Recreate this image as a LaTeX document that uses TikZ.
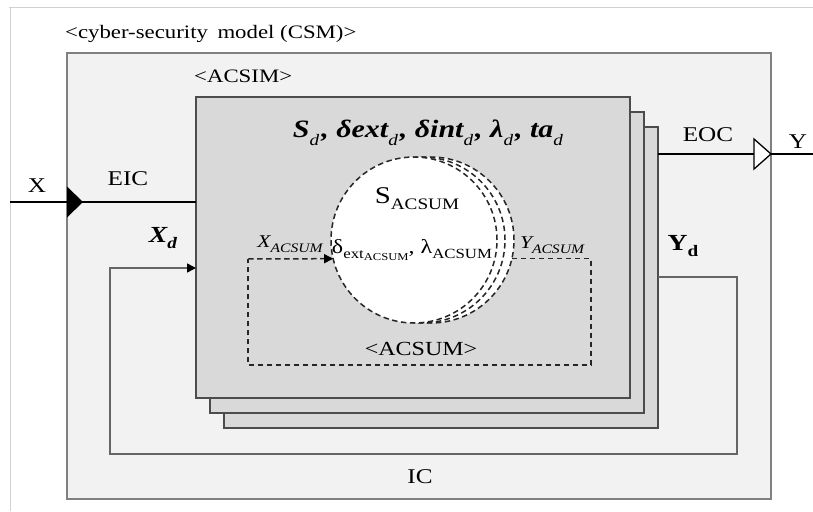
\documentclass[tikz,border=0pt]{standalone}
\usepackage{fontspec}
\setmainfont{Liberation Serif}[FakeStretch=1.2]
\usetikzlibrary{calc,arrows.meta}
\newcommand\fs[1]{\fontsize{#1}{#1}\selectfont}
\newcommand\lo[3][0.3em]{\raisebox{-#1}{\fs{#2}#3}}
\newcommand\ld[1]{\raisebox{-0.3em}{\fs{16}\mdseries\itshape d}\kern#1}
\begin{document}
\begin{tikzpicture}[x=1pt,y=-1pt,
  frame/.style={draw=black!18, line width=1pt},
  csm/.style={draw=black!50, fill=black!5, line width=1.5pt, inner sep=0, outer sep=0},
  acsim/.style={draw=black!70, fill=black!15, line width=1.2pt, inner sep=0, outer sep=0, minimum width=434pt, minimum height=301pt},
  circ/.style={circle, draw=black!85, fill=white, dash pattern=on 5.5pt off 3.5pt, line width=1.5pt, minimum size=166pt, inner sep=0, outer sep=0},
  dsh/.style={draw=black!85, dash pattern=on 5.5pt off 3.5pt, line width=1.5pt},
  wire/.style={draw=black, line width=1.3pt},
  fb/.style={draw=black!60, line width=1.5pt},
  lbl/.style={inner sep=0, font=\fs{20}},
  tip/.style={-{Triangle[length=9pt,width=9pt,black]}}
]
\useasboundingbox (0,0) rectangle (813,511);
\fill[white] (0,0) rectangle (813,511);
% frame lines
\draw[frame] (9,8) -- (813,8);
\draw[frame] (10,8) -- (10,511);
% CSM box
\node[csm, minimum width=704pt, minimum height=446pt] (csm) at (419,276) {};
\node[lbl, anchor=base west, font=\fs{19}] (title) at (65,38) {<cyber-security\hspace{0.5em}model (CSM)>};
\node[lbl, anchor=base west, font=\fs{19}] (acsimlbl) at (194,82) {<ACSIM>};
% ACSIM stack
\node[acsim] (b3) at (441,277.5) {};
\node[acsim] (b2) at (427,262.5) {};
\node[acsim] (b1) at (413,247.5) {};
\node[lbl, font=\fs{25}\bfseries\itshape] (fn) at (428,133)
  {S\ld{2pt}, δext\ld{2pt}, δint\ld{2pt}, λ\ld{2pt}, ta\ld{0pt}};
% ACSUM circles
\node[circ] (c3) at (431,240) {};
\node[circ] (c2) at (422,240) {};
\node[circ] (c1) at (414,240) {};
\node[lbl, font=\fs{24}] (sac) at (417,199) {S\lo[0.25em]{16}{ACSUM}};
\node[lbl, font=\fs{20}] (dl) at (412,250) {δ\lo[0.25em]{14}{ext\lo[0.2em]{10.5}{ACSUM}}, λ\lo[0.25em]{14}{ACSUM}};
\node[lbl, font=\fs{18}\itshape] (xac) at (290,244) {X\lo[0.25em]{13}{ACSUM}};
\node[lbl, font=\fs{18}\itshape] (yac) at (552,245) {Y\lo[0.25em]{13}{ACSUM}};
\node[lbl, font=\fs{20}] (acsumlbl) at (421,349) {<ACSUM>};
% ACSUM dashed loop
\coordinate (aTL) at (248,259);
\coordinate (aBR) at (591,365);
\draw[dsh] (c3.-13) -| (aBR) -| (aTL);
\draw[dsh, tip] (aTL) -- (c1.193);
% input / output couplings
\coordinate (xin) at (10,202);
\draw[wire] (xin) -- (b1.west |- xin);
\fill[black] (67,186.5) -- (83,202) -- (67,217.5) -- cycle;
\coordinate (yout) at (813,154);
\draw[wire] (b3.east |- yout) -- (yout);
\filldraw[fill=white, draw=black, line width=1.3pt] (754,139) -- (771,154) -- (754,169) -- cycle;
% internal coupling loop
\coordinate (xdin) at (110,268);
\coordinate (ydout) at (737,277);
\coordinate (icb) at (110,454);
\draw[fb, tip] (b3.east |- ydout) -- (ydout) |- (icb) |- (b1.west |- xdin);
% labels
\node[lbl, font=\fs{21}] (xl) at (37,186) {X};
\node[lbl, font=\fs{21}] (eic) at (128,179) {EIC};
\node[lbl, font=\fs{23}\bfseries\itshape] (xd) at (163,238) {X\lo{16}{d}};
\node[lbl, font=\fs{21}] (eoc) at (708,135) {EOC};
\node[lbl, font=\fs{21}] (yl) at (798,142) {Y};
\node[lbl, font=\fs{23}\bfseries] (yd) at (683,246) {Y\lo{16}{d}};
\node[lbl, font=\fs{21}] (ic) at (420,477) {IC};
\end{tikzpicture}
\end{document}
